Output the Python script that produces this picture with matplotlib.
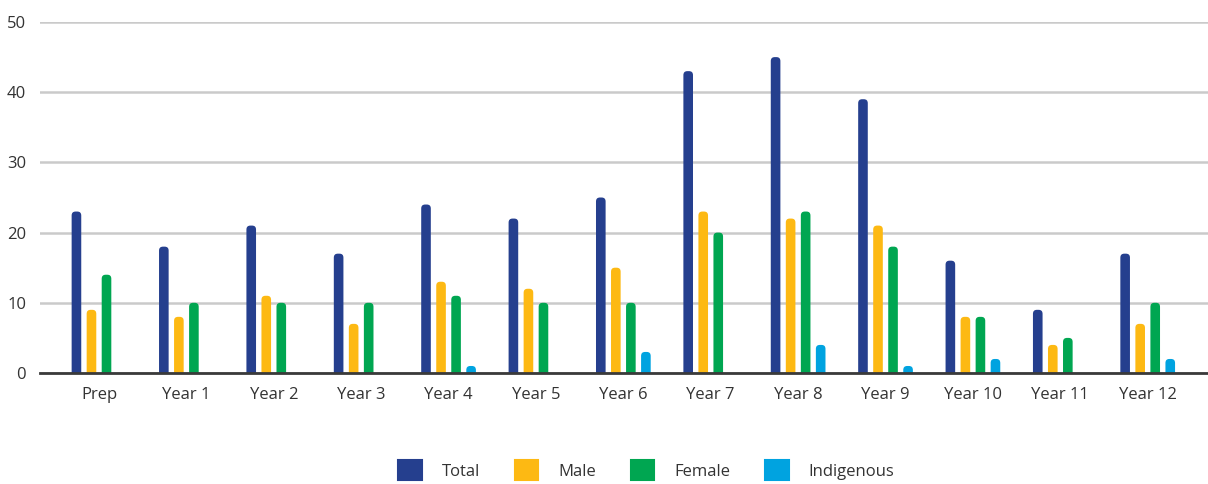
"""Grouped bar chart of enrolments by year level (Total / Male / Female / Indigenous)."""

import matplotlib.pyplot as plt
import numpy as np
from matplotlib.patches import FancyBboxPatch, Patch

plt.rcParams["font.family"] = ["Open Sans", "DejaVu Sans"]

YEARS = ["Prep", "Year 1", "Year 2", "Year 3", "Year 4", "Year 5", "Year 6",
         "Year 7", "Year 8", "Year 9", "Year 10", "Year 11", "Year 12"]
TOTAL = [23, 18, 21, 17, 24, 22, 25, 43, 45, 39, 16, 9, 17]
MALE = [9, 8, 11, 7, 13, 12, 15, 23, 22, 21, 8, 4, 7]
FEMALE = [14, 10, 10, 10, 11, 10, 10, 20, 23, 18, 8, 5, 10]
INDIGENOUS = [0, 0, 0, 0, 1, 0, 3, 0, 4, 1, 2, 0, 2]

SERIES = [
    ("Total", TOTAL, "#253f8e"),
    ("Male", MALE, "#fdb913"),
    ("Female", FEMALE, "#00a651"),
    ("Indigenous", INDIGENOUS, "#00a3e0"),
]

fig = plt.figure(figsize=(12.08, 4.84), dpi=100)
ax = fig.add_axes([40 / 1208, 1 - 373 / 484, 1 - 40 / 1208, (373 - 22) / 484])

XLIM = (-0.675, 12.69)
YLIM = (0, 50)
ax.set_xlim(*XLIM)
ax.set_ylim(*YLIM)

# pixels per data unit, used to keep the rounded bar tops circular
bbox = ax.get_position()
px_x = bbox.width * 1208 / (XLIM[1] - XLIM[0])
px_y = bbox.height * 484 / (YLIM[1] - YLIM[0])
aspect = px_x / px_y

x = np.arange(len(YEARS))
width = 0.11
step = 0.172
radius = 0.045  # x data units
handles = []
for i, (name, vals, color) in enumerate(SERIES):
    vals = np.array(vals, dtype=float)
    vals[vals == 0] = np.nan  # zero counts draw no bar
    bars = ax.bar(x + (i - 1.5) * step, vals, width, color=color, zorder=3)
    for rect in bars:
        h = rect.get_height()
        rect.set_visible(False)
        if not np.isfinite(h) or h <= 0:
            continue
        ry = radius * aspect
        ax.add_patch(FancyBboxPatch(
            (rect.get_x(), -ry), rect.get_width(), h + ry,
            boxstyle=f"round,pad=0,rounding_size={radius}",
            mutation_aspect=aspect, facecolor=color, edgecolor="none",
            zorder=3,
        ))
    handles.append(Patch(facecolor=color, edgecolor=color, linewidth=1.5,
                         joinstyle="round", label=name))

ax.set_yticks([0, 10, 20, 30, 40, 50])
ax.set_xticks(x)
ax.set_xticklabels(YEARS)
ax.grid(axis="y", color="#cacaca", linewidth=1.8, zorder=0)
ax.spines[["top", "right", "left"]].set_visible(False)
ax.spines["bottom"].set_color("#3a3a3a")
ax.spines["bottom"].set_linewidth(2)
ax.spines["bottom"].set_zorder(4)
ax.tick_params(axis="both", length=0, labelsize=12, colors="#333333")
ax.tick_params(axis="x", pad=10)
ax.tick_params(axis="y", pad=10)

fig.legend(handles=handles, loc="center", bbox_to_anchor=(0.535, 0.029),
           ncol=4, frameon=False, fontsize=12, handlelength=1.4,
           handleheight=1.4, handletextpad=1.2, columnspacing=2.1,
           labelcolor="#333333")

fig.savefig("out.png", dpi=100)
